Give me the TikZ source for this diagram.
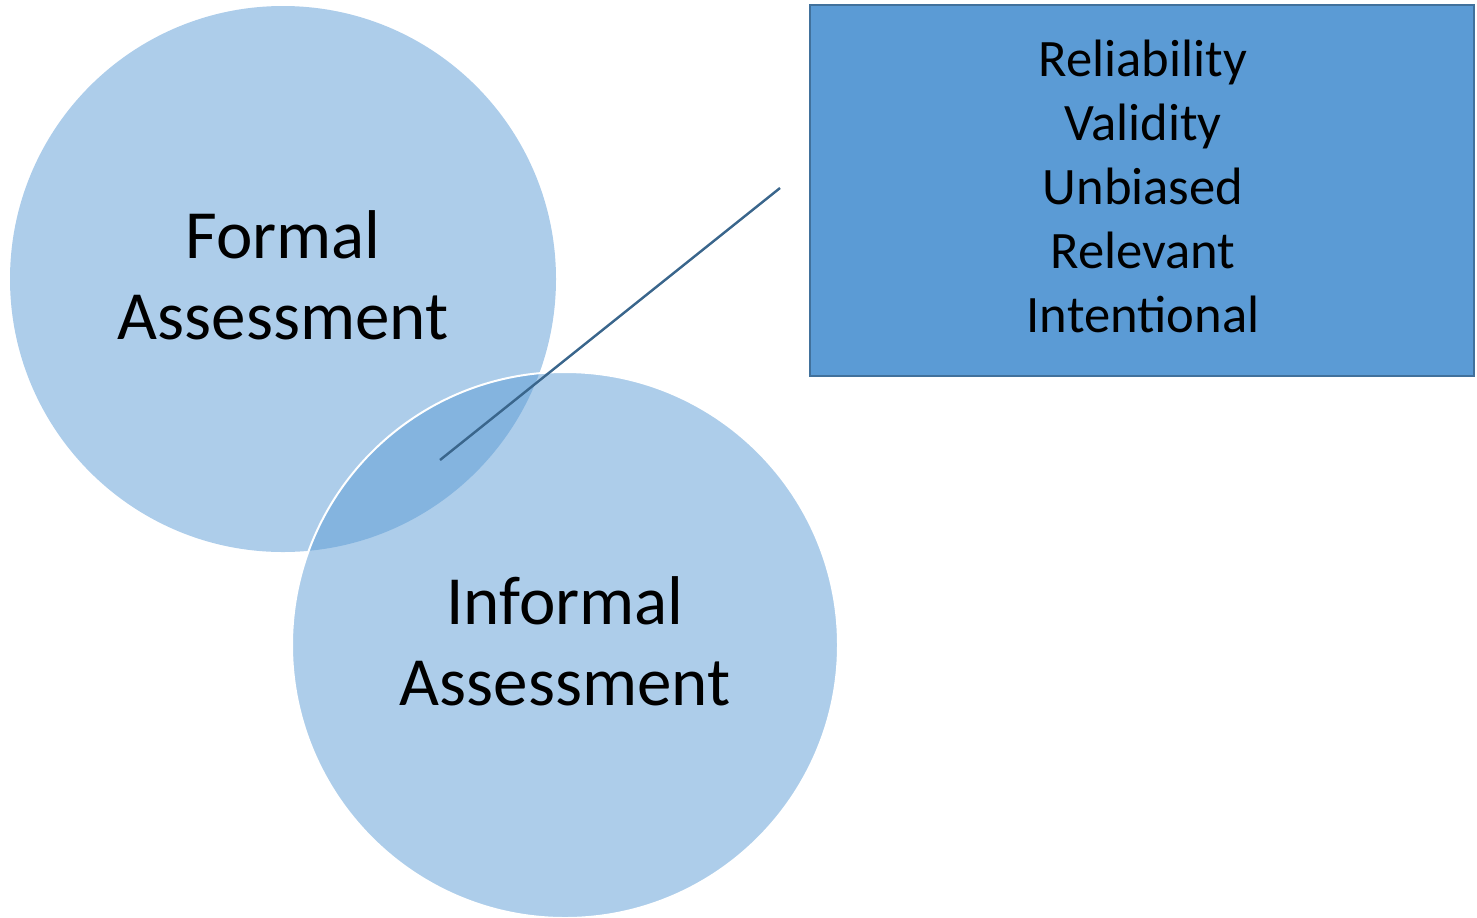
\documentclass[tikz,border=0pt]{standalone}
\usepackage{fontspec}
\setmainfont{Carlito}
\definecolor{accent}{HTML}{5B9BD5}
\definecolor{accentdark}{HTML}{41719C}
\begin{document}
\begin{tikzpicture}[x=0.5pt,y=-0.5pt,
  venn/.style={fill=accent,fill opacity=0.5},
  bigtext/.style={text=black,text opacity=1,align=center,inner sep=0pt,
    font=\fontsize{34.5}{40.5}\selectfont},
  listbox/.style={draw=accentdark,line width=1pt,fill=accent,
    minimum width=332pt,minimum height=185.5pt,inner sep=0pt},
  listtext/.style={align=center,inner sep=0pt,
    font=\fontsize{26.3}{32}\selectfont},
  leader/.style={draw=accentdark!90!black,line width=1.2pt}]
\useasboundingbox (0,0) rectangle (1477,917);
% the two overlapping circles
\path[venn] (283,279) circle[radius=273];
\path[venn,draw=white,line width=1pt] (565,645) circle[radius=273];
\node[bigtext] (formal) at (283,275) {Formal\\Assessment};
\node[bigtext] (informal) at (565,641) {Informal\\Assessment};
% criteria box and its leader line
\node[listbox] (criteria) at (1142,190.5) {};
\node[listtext] (criterialist) at (1143,186) {Reliability\\Validity\\Unbiased\\Relevant\\Intentional};
\coordinate (overlap) at (440,460);
\coordinate (tip) at (780,188);
\draw[leader] (overlap) -- (tip);
\end{tikzpicture}
\end{document}
